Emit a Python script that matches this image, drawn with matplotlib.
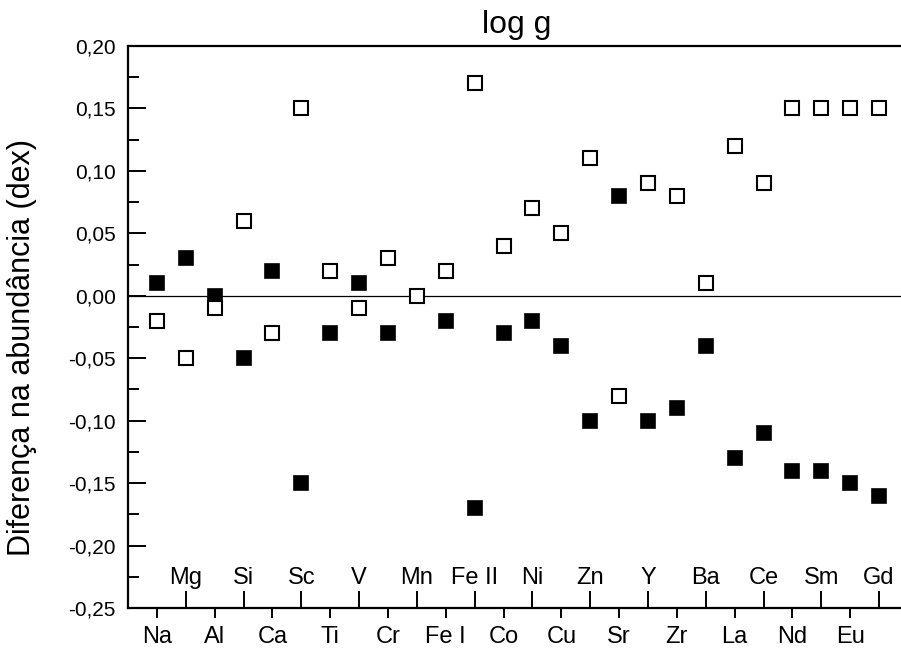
import numpy as np
import matplotlib
matplotlib.use('Agg')
import matplotlib.pyplot as plt
from matplotlib.ticker import MultipleLocator, FuncFormatter
import matplotlib.transforms as mtrans

plt.rcParams['font.family'] = ['Liberation Sans', 'DejaVu Sans']

# elements in plotting order
elements = ['Na', 'Mg', 'Al', 'Si', 'Ca', 'Sc', 'Ti', 'V', 'Cr', 'Mn', 'Fe I', 'Fe II', 'Co',
            'Ni', 'Cu', 'Zn', 'Sr', 'Y', 'Zr', 'Ba', 'La', 'Ce', 'Nd', 'Sm', 'Eu', 'Gd']

# filled squares
delta_filled = [0.01, 0.03, 0.00, -0.05, 0.02, -0.15, -0.03, 0.01, -0.03, None, -0.02, -0.17, -0.03,
                -0.02, -0.04, -0.10, 0.08, -0.10, -0.09, -0.04, -0.13, -0.11, -0.14, -0.14, -0.15, -0.16]
# open squares
delta_open = [-0.02, -0.05, -0.01, 0.06, -0.03, 0.15, 0.02, -0.01, 0.03, 0.00, 0.02, 0.17, 0.04,
              0.07, 0.05, 0.11, -0.08, 0.09, 0.08, 0.01, 0.12, 0.09, 0.15, 0.15, 0.15, 0.15]

x = np.arange(1, len(elements) + 1)
yf = np.array([np.nan if v is None else v for v in delta_filled])
yo = np.array(delta_open)

fig = plt.figure(figsize=(9.01, 6.53), dpi=100)
ax = fig.add_axes([128/901., 1 - 608/653., 780/901., 562/653.])

ax.axhline(0, color='black', lw=0.9, zorder=1)
ax.plot(x, yf, ls='none', marker='s', ms=10, mfc='black', mec='black', mew=1.2, zorder=3)
ax.plot(x, yo, ls='none', marker='s', ms=9.5, mfc='white', mec='black', mew=1.5, zorder=3)

ax.set_xlim(0, 27)
ax.set_ylim(-0.25, 0.20)

for s in ['left', 'bottom', 'top']:
    ax.spines[s].set_linewidth(1.6)
ax.spines['right'].set_visible(False)

# y axis ticks
ax.yaxis.set_major_locator(MultipleLocator(0.05))
ax.yaxis.set_minor_locator(MultipleLocator(0.025))
ax.yaxis.set_major_formatter(FuncFormatter(lambda v, p: ('%.2f' % v).replace('.', ',').replace('-0,00', '0,00')))
ax.tick_params(axis='y', which='major', direction='in', length=13, width=1.4, labelsize=15, pad=9)
ax.tick_params(axis='y', which='minor', direction='in', length=8, width=1.4)

# x axis: odd elements labelled below, even ones inside
low = x[0::2]
high = x[1::2]
ax.set_xticks(low)
ax.set_xticklabels(elements[0::2])
ax.set_xticks(high, minor=True)
ax.tick_params(axis='x', which='major', direction='out', length=7, width=1.4, labelsize=17, pad=6)
ax.tick_params(axis='x', which='minor', direction='in', length=12, width=1.4)
trans = mtrans.blended_transform_factory(ax.transData, ax.transAxes)
for xi, name in zip(high, elements[1::2]):
    ax.text(xi, 0.053, name, transform=trans, ha='center', va='center', fontsize=17)

fig.text(22/901., 1 - 347/653., 'Diferença na abundância (dex)', rotation=90,
         ha='center', va='center', fontsize=22)
fig.text(517/901., 1 - 33/653., 'log g', ha='center', va='baseline', fontsize=23)

fig.savefig('out.png', dpi=100)
